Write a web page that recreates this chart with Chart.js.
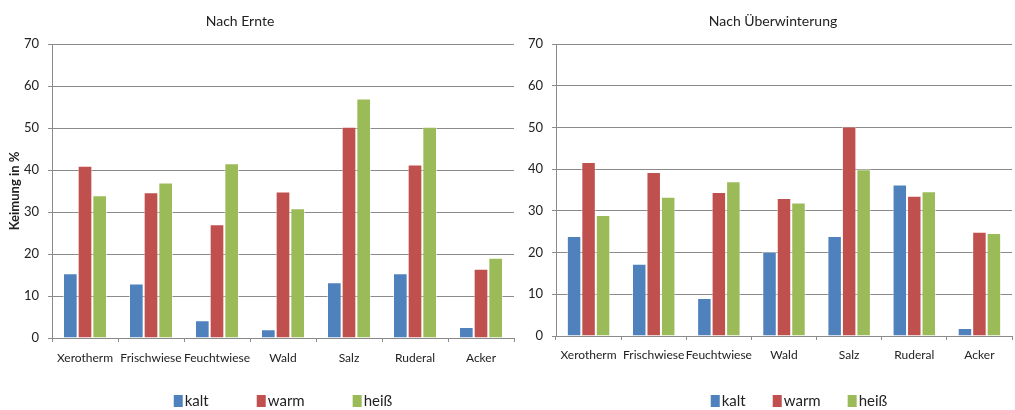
<!DOCTYPE html>
<html>
<head>
<meta charset="utf-8">
<script src="https://cdn.jsdelivr.net/npm/chart.js@4/dist/chart.umd.min.js"></script>
<style>
  html, body { margin: 0; padding: 0; background: #fff; }
  #wrap { position: relative; width: 1015px; height: 410px; overflow: hidden; }
  canvas { position: absolute; top: 0; }
</style>
</head>
<body>
<div id="wrap">
  <canvas id="ernte" width="516" height="410" style="left:0"></canvas>
  <canvas id="winter" width="510" height="410" style="left:505px"></canvas>
</div>
<script>
// Habitat categories and temperature treatments
const categories = ['Xerotherm', 'Frischwiese', 'Feuchtwiese', 'Wald', 'Salz', 'Ruderal', 'Acker'];
const seriesNames = ['kalt', 'warm', 'heiß'];
const yTicks = [0, 10, 20, 30, 40, 50, 60, 70];

// Germination (%) after harvest
const ernteKalt  = [15.4, 13.0, 4.2, 2.1, 13.3, 15.4, 2.6];
const ernteWarm  = [41.0, 34.7, 27.1, 34.9, 50.3, 41.3, 16.5];
const ernteHeiss = [34.0, 37.0, 41.6, 30.9, 57.0, 50.3, 19.1];

// Germination (%) after overwintering
const winterKalt  = [24.0, 17.3, 9.1, 20.2, 24.0, 36.3, 1.9];
const winterWarm  = [41.7, 39.3, 34.5, 33.1, 50.2, 33.6, 25.0];
const winterHeiss = [29.0, 33.4, 37.1, 32.0, 40.0, 34.7, 24.7];

const seriesColors = ['#4F81BD', '#C0504D', '#9BBB59'];
const FONT = "'Lato', 'Carlito', 'Liberation Sans', sans-serif";
const GRID = '#8a8a8a';

// Draws the panel heading above the plot area
const panelTitle = {
  id: 'panelTitle',
  afterDraw(chart, args, opts) {
    const ctx = chart.ctx;
    ctx.save();
    ctx.font = '14px ' + FONT;
    ctx.fillStyle = '#222';
    ctx.textAlign = 'center';
    ctx.textBaseline = 'middle';
    ctx.fillText(opts.text, opts.x, opts.y);
    ctx.restore();
  }
};

// Compact legend row: colour swatch + label, centred under the plot area
const swatchLegend = {
  id: 'swatchLegend',
  afterDraw(chart, args, opts) {
    const ctx = chart.ctx;
    const sets = chart.data.datasets;
    ctx.save();
    ctx.font = '15px ' + FONT;
    const widths = sets.map(ds => opts.box + opts.textGap + ctx.measureText(ds.label).width);
    const total = widths.reduce((a, b) => a + b, 0) + opts.gap * (sets.length - 1);
    const area = chart.chartArea;
    let x = (area.left + area.right) / 2 + opts.shift - total / 2;
    sets.forEach((ds, i) => {
      ctx.fillStyle = ds.backgroundColor;
      ctx.fillRect(x, opts.y - opts.boxH / 2, opts.box, opts.boxH);
      ctx.fillStyle = '#222';
      ctx.textAlign = 'left';
      ctx.textBaseline = 'middle';
      ctx.fillText(ds.label, x + opts.box + opts.textGap, opts.y);
      x += widths[i] + opts.gap;
    });
    ctx.restore();
  }
};

function buildChart(id, values, cfg) {
  const datasets = values.map((v, i) => ({
    label: seriesNames[i],
    data: v,
    backgroundColor: seriesColors[i],
    borderColor: 'rgba(255,255,255,0.55)',
    borderWidth: { left: 1, right: 1, top: 1, bottom: 0 },
    categoryPercentage: 0.667,
    barPercentage: 1.0
  }));
  return new Chart(document.getElementById(id), {
    type: 'bar',
    data: { labels: categories, datasets },
    plugins: [panelTitle, swatchLegend],
    options: {
      responsive: false,
      animation: false,
      layout: { padding: { top: 44, right: cfg.padRight, left: 0, bottom: cfg.padBottom } },
      plugins: {
        panelTitle: { text: cfg.title, x: cfg.titleX, y: 21 },
        swatchLegend: { y: 401, box: 9, boxH: 12, textGap: 2, gap: cfg.legendGap, shift: cfg.legendShift },
        title: { display: false },
        tooltip: { enabled: false },
        legend: { display: false }
      },
      scales: {
        x: {
          grid: {
            offset: true,
            drawOnChartArea: false,
            drawTicks: true,
            tickLength: 4,
            color: GRID
          },
          border: { color: GRID, width: 1 },
          ticks: { color: '#222', font: { family: FONT, size: 12 }, padding: cfg.xPad, maxRotation: 0, autoSkip: false },
          afterFit(scale) { scale.height = 30; }
        },
        y: {
          min: yTicks[0],
          max: yTicks[yTicks.length - 1],
          afterBuildTicks(scale) { scale.ticks = yTicks.map(v => ({ value: v })); },
          grid: { color: GRID, tickLength: 4, drawTicks: true },
          border: { color: GRID, width: 1 },
          ticks: { color: '#222', font: { family: FONT, size: 13 }, padding: 9 },
          title: cfg.yTitle ? {
            display: true,
            text: cfg.yTitle,
            color: '#222',
            font: { family: FONT, size: 13, weight: 'bold' },
            padding: { top: 7, bottom: 0 }
          } : { display: false },
          afterFit(scale) { scale.width = cfg.yWidth; }
        }
      }
    }
  });
}

buildChart('ernte', [ernteKalt, ernteWarm, ernteHeiss], {
  title: 'Nach Ernte', titleX: 240, padRight: 2, padBottom: 42, yWidth: 52, yTitle: 'Keimung in %',
  xPad: 9, legendGap: 48, legendShift: 0
});

buildChart('winter', [winterKalt, winterWarm, winterHeiss], {
  title: 'Nach Überwinterung', titleX: 268, padRight: 3, padBottom: 44, yWidth: 51, yTitle: null,
  xPad: 8, legendGap: 27, legendShift: 15
});
</script>
</body>
</html>
